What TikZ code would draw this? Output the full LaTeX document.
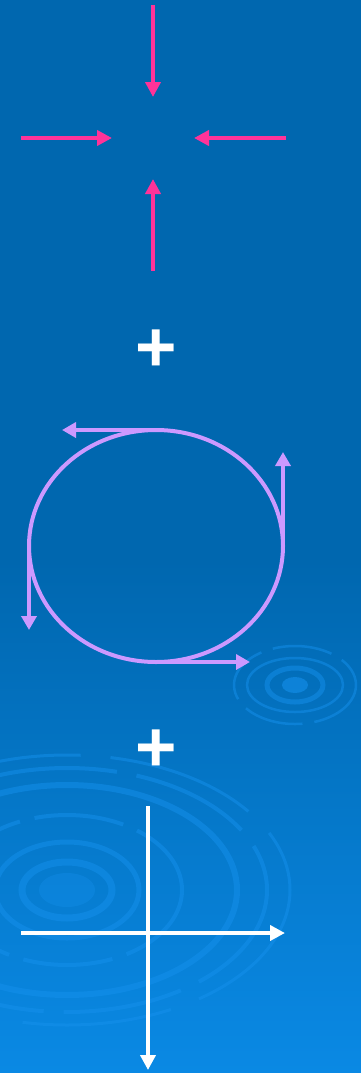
\documentclass[tikz,border=0pt]{standalone}
\usepackage{fontspec}
\setmainfont{Liberation Sans}
\usetikzlibrary{arrows.meta,shapes.geometric}
\definecolor{bgtop}{HTML}{0067AF}
\definecolor{bgbot}{HTML}{0A89E4}
\definecolor{pinkarr}{HTML}{FF3399}
\definecolor{lav}{HTML}{CC99FF}
\definecolor{ripple}{HTML}{1590EC}
\tikzset{
  pinkline/.style={draw=pinkarr, line width=4.5pt, -{Triangle[length=15pt,width=15pt]}},
  lavline/.style={draw=lav, line width=4pt, -{Triangle[length=14pt,width=15pt]}},
  whiteline/.style={draw=white, line width=4pt, -{Triangle[length=15pt,width=15pt]}},
  plussign/.style={text=white, inner sep=0pt, font=\bfseries\fontsize{71}{71}\selectfont},
  ring/.style={draw=ripple, opacity=0.5},
  lavellipse/.style={draw=lav, line width=4pt, ellipse, inner sep=0pt, outer sep=0pt, minimum width=254pt, minimum height=232pt},
}
\begin{document}
\begin{tikzpicture}[x=1pt,y=-1pt]
\useasboundingbox (0,0) rectangle (361,1073);
% background
\fill[bgtop] (0,0) rectangle (361,560);
\shade[top color=bgtop, bottom color=bgbot] (0,560) rectangle (361,1073);
% small ripple
\begin{scope}[ring]
  \fill[ripple, opacity=0.6] (295,685) ellipse [x radius=13, y radius=8];
  \draw[line width=5pt] (295,685) ellipse [x radius=28, y radius=17];
  \draw[line width=2.5pt] (295,685) ellipse [x radius=48, y radius=27];
  \draw[line width=2.5pt, dash pattern=on 60pt off 12pt] (295,685) ellipse [x radius=61, y radius=39];
\end{scope}
% big ripple
\begin{scope}[ring]
  \fill[ripple, opacity=0.35] (67,890) ellipse [x radius=28, y radius=17];
  \draw[line width=7pt] (67,890) ellipse [x radius=45, y radius=28];
  \draw[line width=5pt] (67,890) ellipse [x radius=72, y radius=48];
  \draw[line width=4pt, dash pattern=on 90pt off 15pt] (67,890) ellipse [x radius=115, y radius=75];
  \draw[line width=6pt] (67,890) ellipse [x radius=170, y radius=105];
  \draw[line width=4pt, dash pattern=on 120pt off 20pt] (67,890) ellipse [x radius=200, y radius=122];
  \draw[line width=3pt, dash pattern=on 150pt off 30pt] (67,890) ellipse [x radius=223, y radius=135];
\end{scope}
% pink converging arrows
\coordinate (pTs) at (153,5);   \coordinate (pTe) at (153,97);
\coordinate (pLs) at (21,138);  \coordinate (pLe) at (112,138);
\coordinate (pRs) at (286,138); \coordinate (pRe) at (194,138);
\coordinate (pBs) at (153,271); \coordinate (pBe) at (153,179);
\draw[pinkline] (pTs) -- (pTe);
\draw[pinkline] (pLs) -- (pLe);
\draw[pinkline] (pRs) -- (pRe);
\draw[pinkline] (pBs) -- (pBe);
% plus signs
\node[plussign] (plus1) at (156,351) {+};
\node[plussign] (plus2) at (156,751) {+};
% lavender ellipse with tangent arrows
\node[lavellipse] (ell) at (156,546) {};
\coordinate (eTe) at (62,430);
\coordinate (eRe) at (283,452);
\coordinate (eLe) at (29,630);
\coordinate (eBe) at (250,662);
\draw[lavline] (ell.north) -- (eTe);
\draw[lavline] (ell.east) -- (eRe);
\draw[lavline] (ell.west) -- (eLe);
\draw[lavline] (ell.south) -- (eBe);
% white axes
\coordinate (vS) at (148,806); \coordinate (vE) at (148,1070);
\coordinate (hS) at (21,933);  \coordinate (hE) at (285,933);
\draw[whiteline] (vS) -- (vE);
\draw[whiteline] (hS) -- (hE);
\end{tikzpicture}
\end{document}
